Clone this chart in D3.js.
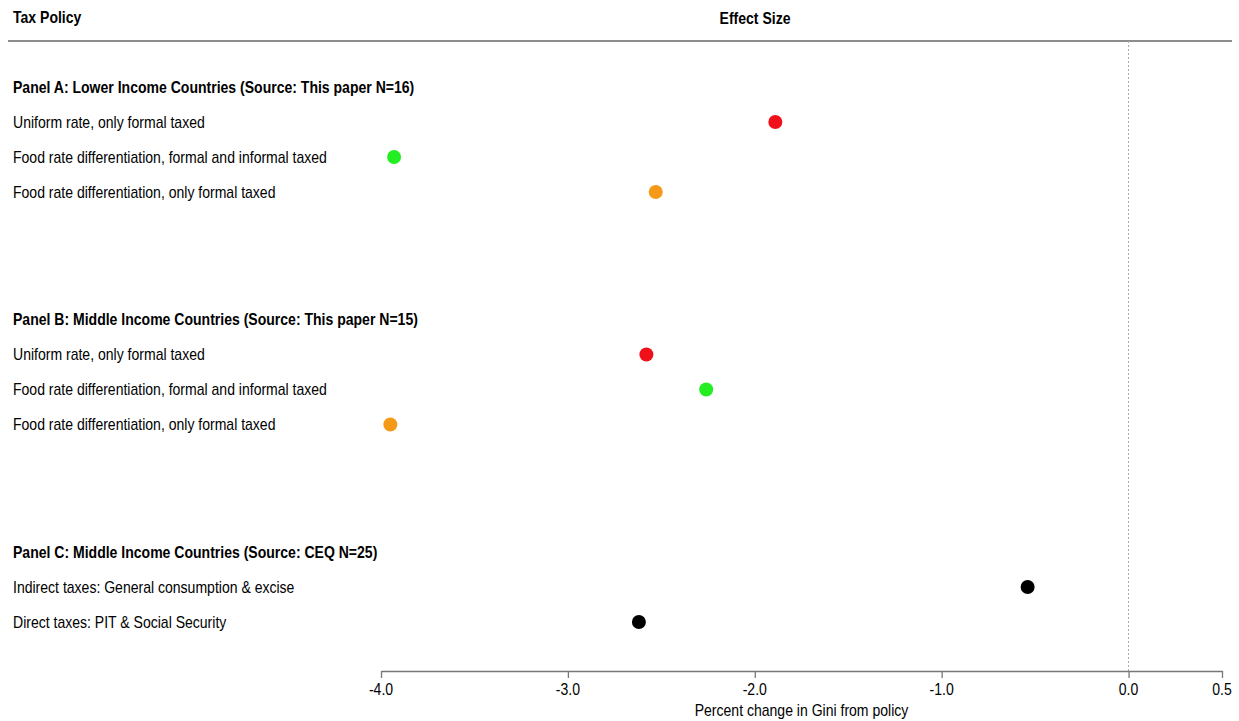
<!DOCTYPE html>
<html><head><meta charset="utf-8">
<script src="https://cdn.jsdelivr.net/npm/d3@7"></script>
<style>
html,body{margin:0;padding:0;background:#fff;}
svg{display:block;font-family:"Liberation Sans",Arial,sans-serif;}
</style></head>
<body>
<svg id="chart" width="1239" height="721"></svg>
<script>
// ---- data ----
const panelTitles = [
  "Panel A: Lower Income Countries (Source: This paper N=16)",
  "Panel B: Middle Income Countries (Source: This paper N=15)",
  "Panel C: Middle Income Countries (Source: CEQ N=25)"
];
const rowPanel = [0, 0, 0, 1, 1, 1, 2, 2];
const rowIndex = [1, 2, 3, 1, 2, 3, 1, 2];
const rowLabels = [
  "Uniform rate, only formal taxed",
  "Food rate differentiation, formal and informal taxed",
  "Food rate differentiation, only formal taxed",
  "Uniform rate, only formal taxed",
  "Food rate differentiation, formal and informal taxed",
  "Food rate differentiation, only formal taxed",
  "Indirect taxes: General consumption & excise",
  "Direct taxes: PIT & Social Security"
];
const effects = [-1.89, -3.93, -2.53, -2.58, -2.26, -3.95, -0.54, -2.62];
const pointColors = ["#f0101a", "#22ee22", "#f59a18", "#f0101a", "#22ee22", "#f59a18", "#000000", "#000000"];
const tickValues = [-4.0, -3.0, -2.0, -1.0, 0.0, 0.5];
const xDomain = [-4.0, 0.5];

// ---- layout ----
const svg = d3.select("#chart");
const K = 0.825;         // horizontal condensation of text
const FS = 17;
const x = d3.scaleLinear().domain(xDomain).range([381, 1222]);
const yPanel = d3.scaleLinear().domain([0, 1]).range([87, 319.5]);
const yRow = d3.scaleLinear().domain([0, 1]).range([0, 35]);
const yOf = (p, r) => yPanel(p) + yRow(r);
const axisY = 671, headerLineY = 41;
const fmt = v => d3.format(".1f")(v).replace("\u2212", "-");

function txt(sel, s, opts) {
  const t = sel.append("text").text(s)
    .attr("x", opts.x).attr("y", opts.y).attr("dy", "0.35em")
    .attr("font-size", opts.size || FS)
    .attr("font-weight", opts.bold ? "bold" : "normal")
    .attr("fill", "#000")
    .attr("text-anchor", opts.anchor || "start");
  const w = t.node().getComputedTextLength();
  t.attr("textLength", w * K).attr("lengthAdjust", "spacingAndGlyphs");
  return t;
}

// header
txt(svg, "Tax Policy", {x: 13, y: 17, bold: true});
txt(svg, "Effect Size", {x: 755, y: 18, bold: true, anchor: "middle"});
svg.append("line").attr("x1", 8).attr("x2", 1232).attr("y1", headerLineY).attr("y2", headerLineY)
  .attr("stroke", "#666").attr("stroke-width", 1.5);

// zero reference line
svg.append("line").attr("x1", x(0)).attr("x2", x(0)).attr("y1", headerLineY).attr("y2", axisY)
  .attr("stroke", "#aaa").attr("stroke-width", 1).attr("stroke-dasharray", "2,2");

// panel titles
panelTitles.forEach((s, i) => txt(svg, s, {x: 13, y: yOf(i, 0), bold: true}));

// row labels
rowLabels.forEach((s, i) => txt(svg, s, {x: 13, y: yOf(rowPanel[i], rowIndex[i])}));

// points
svg.append("g").selectAll("circle").data(effects).join("circle")
  .attr("cx", d => x(d))
  .attr("cy", (d, i) => yOf(rowPanel[i], rowIndex[i]))
  .attr("r", 7)
  .attr("fill", (d, i) => pointColors[i]);

// x axis
const axis = d3.axisBottom(x).tickValues(tickValues).tickFormat(fmt).tickSize(7).tickSizeOuter(0);
const gx = svg.append("g").attr("transform", `translate(0,${axisY})`).call(axis);
gx.select(".domain").attr("stroke", "#777").attr("stroke-width", 1.3);
gx.selectAll(".tick line").attr("stroke", "#777").attr("stroke-width", 1.3);
gx.selectAll(".tick text").remove();
tickValues.forEach(v => txt(svg, fmt(v), {x: x(v), y: 689, anchor: "middle", size: 17}));

txt(svg, "Percent change in Gini from policy", {x: (x(xDomain[0]) + x(xDomain[1])) / 2, y: 710, anchor: "middle", size: 17});
</script>
</body></html>
